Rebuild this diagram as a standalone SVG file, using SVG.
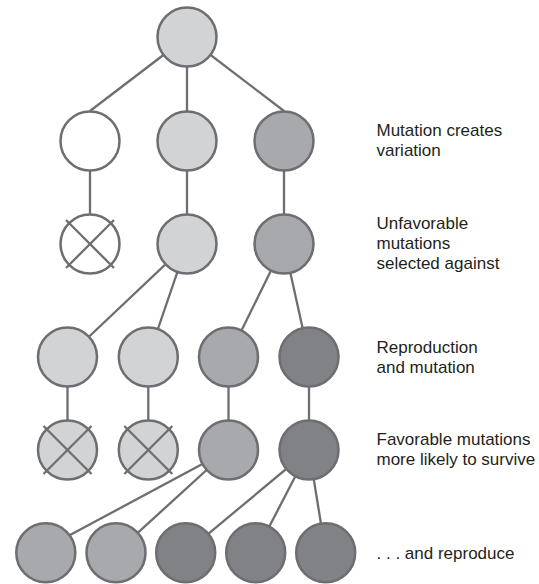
<svg xmlns="http://www.w3.org/2000/svg" width="539" height="584" viewBox="0 0 539 584">
<style>
.c{stroke:#6d6e71;stroke-width:2.5}
.w{fill:#ffffff}
.l{fill:#d1d3d4}
.m{fill:#a7a9ac}
.d{fill:#808285}
.e{stroke:#6d6e71;stroke-width:2.3;fill:none}
.x{stroke:#6d6e71;stroke-width:2.3}
text{font-family:"Liberation Sans",Arial,sans-serif;font-size:17px;fill:#231f20}
</style>
<rect width="539" height="584" fill="#ffffff"/>
<g id="connectors" class="e">
<line x1="187" y1="37" x2="90" y2="111"/>
<line x1="187" y1="37" x2="187" y2="141"/>
<line x1="187" y1="37" x2="284" y2="111"/>
<line x1="90" y1="141" x2="90" y2="244"/>
<line x1="187" y1="141" x2="187" y2="244"/>
<line x1="284" y1="141" x2="284" y2="244"/>
<line x1="187" y1="244" x2="67.5" y2="357"/>
<line x1="187" y1="244" x2="148.3" y2="357"/>
<line x1="284" y1="244" x2="228.5" y2="357"/>
<line x1="284" y1="244" x2="309" y2="357"/>
<line x1="67.5" y1="357" x2="67.5" y2="450"/>
<line x1="148.3" y1="357" x2="148.3" y2="450"/>
<line x1="228.5" y1="357" x2="228.5" y2="450"/>
<line x1="309" y1="357" x2="309" y2="450"/>
<line x1="228.5" y1="450" x2="45.8" y2="548"/>
<line x1="228.5" y1="450" x2="116" y2="552.7"/>
<line x1="309" y1="450" x2="185.7" y2="552.7"/>
<line x1="309" y1="450" x2="255.7" y2="552.7"/>
<line x1="309" y1="450" x2="325.7" y2="552.7"/>
</g>
<g id="n0"><circle class="c l" cx="187" cy="37" r="29.5"/></g>
<g id="n1a"><circle class="c w" cx="90" cy="141" r="29.5"/></g>
<g id="n1b"><circle class="c l" cx="187" cy="141" r="29.5"/></g>
<g id="n1c"><circle class="c m" cx="284" cy="141" r="29.5"/></g>
<g id="n2a"><circle class="c w" cx="90" cy="244" r="29.5"/>
<line class="x" x1="66" y1="220" x2="114" y2="268"/><line class="x" x1="114" y1="220" x2="66" y2="268"/></g>
<g id="n2b"><circle class="c l" cx="187" cy="244" r="29.5"/></g>
<g id="n2c"><circle class="c m" cx="284" cy="244" r="29.5"/></g>
<g id="n3a"><circle class="c l" cx="67.5" cy="357" r="29.5"/></g>
<g id="n3b"><circle class="c l" cx="148.3" cy="357" r="29.5"/></g>
<g id="n3c"><circle class="c m" cx="228.5" cy="357" r="29.5"/></g>
<g id="n3d"><circle class="c d" cx="309" cy="357" r="29.5"/></g>
<g id="n4a"><circle class="c l" cx="67.5" cy="450" r="29.5"/>
<line class="x" x1="43.5" y1="426" x2="91.5" y2="474"/><line class="x" x1="91.5" y1="426" x2="43.5" y2="474"/></g>
<g id="n4b"><circle class="c l" cx="148.3" cy="450" r="29.5"/>
<line class="x" x1="124.3" y1="426" x2="172.3" y2="474"/><line class="x" x1="172.3" y1="426" x2="124.3" y2="474"/></g>
<g id="n4c"><circle class="c m" cx="228.5" cy="450" r="29.5"/></g>
<g id="n4d"><circle class="c d" cx="309" cy="450" r="29.5"/></g>
<g id="n5a"><circle class="c m" cx="45.8" cy="552.7" r="29.5"/></g>
<g id="n5b"><circle class="c m" cx="116" cy="552.7" r="29.5"/></g>
<g id="n5c"><circle class="c d" cx="185.7" cy="552.7" r="29.5"/></g>
<g id="n5d"><circle class="c d" cx="255.7" cy="552.7" r="29.5"/></g>
<g id="n5e"><circle class="c d" cx="325.7" cy="552.7" r="29.5"/></g>
<g id="labels">
<text x="376.5" y="136">Mutation creates</text>
<text x="376.5" y="156">variation</text>
<text x="376.5" y="228.5">Unfavorable</text>
<text x="376.5" y="248.5">mutations</text>
<text x="376.5" y="268.5">selected against</text>
<text x="376.5" y="353">Reproduction</text>
<text x="376.5" y="373">and mutation</text>
<text x="376.5" y="445">Favorable mutations</text>
<text x="376.5" y="465">more likely to survive</text>
<text x="376.5" y="559">. . . and reproduce</text>
</g>
</svg>
